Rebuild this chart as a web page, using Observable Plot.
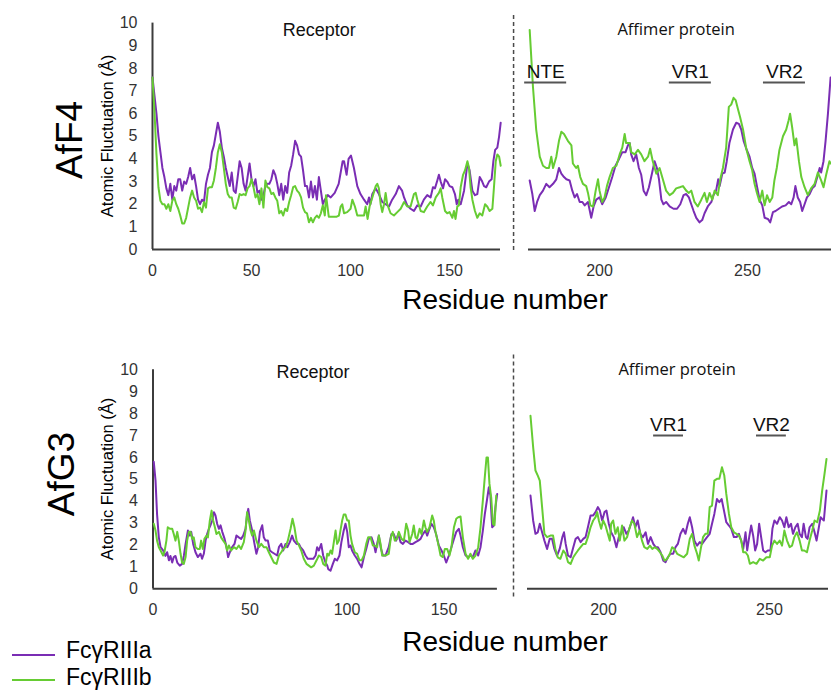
<!DOCTYPE html>
<html><head><meta charset="utf-8">
<script src="https://cdn.jsdelivr.net/npm/d3@7"></script>
<script src="https://cdn.jsdelivr.net/npm/@observablehq/plot@0.6"></script>
<style>
body{margin:0;background:#fff;font-family:"Liberation Sans",Arial,sans-serif;}
#wrap{position:relative;width:831px;height:692px;overflow:hidden;background:#fff;}
.pane{position:absolute;}
.pane svg{display:block;overflow:visible;}
.lbl{position:absolute;white-space:nowrap;line-height:1;color:#000;}
</style></head><body><div id="wrap"></div>
<script>
// ---------- DATA: [residue, RMSF Å] ----------
const seriesNames = ["FcγRIIIa", "FcγRIIIb"];
const yTicks = [0,1,2,3,4,5,6,7,8,9,10];
const receptorTicks = [0, 50, 100, 150];
const affimerTicks = [200, 250];
const F4_regions = [["NTE", 174.7, 188.9], ["VR1", 223.6, 237.8], ["VR2", 255.4, 269.6]];
const G3_regions = [["VR1", 215.1, 224.1], ["VR2", 246.1, 255.1]];

const F4_rec_IIIa = [[0,7.6],[1,6.8],[2,6.0],[3,5.0],[4,4.3],[5,3.6],[6,3.2],[7,2.7],[8,2.4],[9,2.9],[10,2.2],[11,2.8],[12,2.6],[13,3.1],[14,3.1],[15,2.6],[16,3.0],[17,2.9],[18,3.2],[19,3.6],[20,3.1],[21,3.3],[22,2.8],[23,2.2],[24,2.0],[25,2.2],[26,2.1],[27,2.9],[28,3.3],[29,3.6],[30,4.3],[31,4.6],[32,5.1],[33,5.6],[34,5.2],[35,4.5],[36,4.1],[37,3.6],[38,3.2],[39,2.8],[40,3.4],[41,2.6],[42,2.5],[43,3.2],[44,3.9],[45,3.6],[46,2.9],[47,2.6],[48,3.2],[49,3.8],[50,3.1],[51,2.8],[52,3.1],[53,2.5],[54,2.6],[55,2.2],[56,2.4],[57,2.8],[58,2.9],[59,2.9],[60,3.1],[61,3.5],[62,3.3],[63,2.9],[64,2.4],[65,2.9],[66,2.2],[67,2.8],[68,2.5],[69,3.4],[70,3.7],[71,4.2],[72,4.8],[73,4.6],[74,4.2],[75,4.1],[76,3.5],[77,2.8],[78,2.8],[79,2.3],[80,3.0],[81,2.3],[82,2.8],[83,2.2],[84,3.2],[85,2.6],[86,2.0],[87,2.2],[88.5,2.4],[90,2.3],[92,2.5],[94,2.9],[96,3.9],[96.7,3.9],[98,3.3],[99,4.0],[100.2,4.15],[101.7,3.6],[103.4,2.8],[105,2.45],[106.8,2.2],[108.4,2.0],[109.3,2.3],[110,2.0],[111,2.45],[112.7,2.7],[114.3,2.45],[116,2.1],[117.7,2.0],[119.4,1.9],[121,2.2],[122.8,2.45],[124.4,2.8],[126,2.6],[127,2.3],[128.6,1.95],[130.3,1.8],[132,1.7],[133.7,1.95],[135.4,1.9],[137,2.2],[138.7,2.4],[140.4,2.3],[141.6,2.75],[142.6,2.7],[143.8,3.05],[144.6,3.3],[145.5,3.0],[146.7,2.7],[147.7,3.1],[148.8,3.0],[150,2.8],[151.4,2.75],[152.7,2.45],[153.6,2.0],[154.4,2.2],[155.6,2.0],[157.3,2.6],[159,3.8],[160.1,3.5],[161.5,2.6],[162.8,2.4],[164,2.45],[165.2,3.2],[166.2,3.05],[167.4,2.8],[168.5,2.75],[169.9,3.0],[171.2,3.1],[172.1,3.9],[173,4.4],[174.1,4.5],[175,5.0],[175.8,5.6]];

const F4_rec_IIIb = [[0,7.6],[1,6.1],[2,4.2],[3,2.75],[4,2.15],[5,2.0],[6,2.0],[7,1.8],[8,2.0],[9,1.7],[10,2.15],[11,2.3],[12,2.0],[13,1.8],[14,1.5],[15,1.15],[16,1.15],[17,1.4],[18,1.85],[19,2.3],[20,2.6],[21,2.3],[22,2.15],[23,1.8],[24,1.85],[25,1.65],[26,2.1],[27,1.85],[28,2.7],[29,2.75],[30,2.75],[31,3.05],[32,3.6],[33,4.3],[34,4.65],[35,4.3],[36,3.6],[37,2.9],[38,2.45],[39,2.3],[40,2.3],[41,1.85],[42,1.8],[43,2.1],[44,2.45],[45,2.4],[46,2.45],[47,2.4],[48,2.7],[49,2.8],[50,3.1],[51,2.75],[52,2.3],[53,2.45],[54,2.0],[55,2.7],[56,1.85],[57,3.05],[58,2.75],[59,2.7],[60,2.45],[61,2.5],[62,2.3],[63,2.15],[64,1.6],[65,1.7],[66,1.5],[67,1.8],[68,1.7],[69,2.1],[70,2.4],[71,2.75],[72,2.8],[73,2.6],[74,2.5],[75,2.3],[76,1.85],[77,1.65],[78,1.6],[79,1.2],[80,1.4],[81,1.2],[82,1.4],[83,1.5],[84,1.4],[85,1.6],[86,1.95],[87,1.5],[87.6,2.4],[89,1.45],[91,1.45],[93,1.45],[94.1,1.5],[95,1.9],[95.8,2.0],[96.7,1.6],[98.3,1.65],[100,1.8],[100.9,2.2],[102.2,1.9],[103.4,1.5],[105,1.5],[106.8,1.5],[107.6,1.9],[108.6,1.35],[109.6,1.9],[111,2.3],[112.7,2.8],[113.5,2.9],[114.3,2.7],[115.2,2.0],[116,1.65],[116.9,2.0],[117.7,2.5],[118.5,2.0],[120.2,1.6],[121.9,1.5],[123.6,1.65],[125.3,1.8],[127,2.1],[128.6,1.9],[130.3,1.9],[132,2.45],[132.9,2.5],[133.7,2.2],[135.4,1.7],[137,1.65],[138.7,1.9],[140.4,2.1],[141.6,1.95],[143,2.3],[144.6,2.5],[145.5,2.7],[146.3,2.3],[147.7,1.7],[148.8,1.6],[150,1.65],[151.4,1.4],[152.2,1.7],[153,1.35],[153.9,1.9],[154.7,1.95],[155.6,2.75],[156.8,3.3],[157.8,3.5],[159,3.9],[159.8,3.6],[160.6,2.75],[161.5,2.2],[162.8,1.7],[164,1.4],[165.2,1.6],[166.5,1.5],[167.9,2.0],[169,1.9],[170.2,1.7],[171.6,1.8],[172.4,2.75],[173.3,3.9],[174.1,4.2],[175,4.1],[175.8,3.7]];

const F4_aff_IIIa = [[176.4,3.05],[177.3,2.45],[178.1,1.7],[178.9,2.1],[179.8,2.4],[180.9,2.6],[182,2.9],[183.1,2.75],[184.3,2.9],[185.4,3.1],[186.3,3.6],[187.1,3.35],[188,3.2],[188.8,3.1],[189.9,3.05],[190.8,2.6],[191.6,2.3],[192.4,2.45],[193.3,2.1],[194.2,2.1],[195,1.95],[196.1,2.1],[197.2,1.4],[198,1.9],[198.9,2.2],[200,2.3],[200.9,2.0],[202.1,2.3],[203.2,2.75],[204.3,3.2],[205.4,3.7],[206.6,4.0],[207.7,4.3],[208.8,4.3],[209.6,4.6],[210.2,4.7],[210.7,4.2],[211.5,3.9],[212.4,4.2],[213.3,3.6],[214.1,3.3],[214.9,2.6],[215.8,2.4],[216.7,2.75],[217.8,3.4],[218.6,3.9],[219.4,3.6],[220.1,3.1],[220.9,2.2],[221.6,2.0],[222.5,2.1],[223.7,1.9],[225,1.8],[226.2,1.8],[227.3,2.0],[228.4,2.4],[229.3,2.45],[230.2,2.3],[231,2.0],[231.8,1.7],[232.7,1.4],[233.8,1.2],[234.7,1.3],[235.5,1.6],[236.6,1.9],[237.8,2.1],[238.5,2.4],[239.4,2.6],[240.1,3.1],[240.6,2.8],[241.5,3.35],[242.3,3.4],[243,3.9],[243.9,4.7],[245.1,5.3],[246.2,5.6],[247.1,5.55],[247.9,5.3],[248.7,4.8],[249.6,4.45],[250.7,4.1],[251.6,3.6],[252.4,3.35],[253.2,2.8],[254.1,2.2],[255,1.95],[255.8,1.4],[256.9,1.35],[257.7,1.2],[258.6,1.65],[259.5,1.7],[260.6,1.8],[261.7,1.9],[262.9,1.95],[264,2.1],[264.8,2.0],[265.6,2.3],[266.2,2.8],[267,2.3],[267.8,2.1],[268.5,1.7],[269.3,2.0],[270.1,2.3],[271,2.45],[271.9,2.7],[272.7,2.8],[273.6,3.2],[274.4,3.6],[274.9,3.4],[275.7,3.9],[276.4,4.8],[277.2,6.0],[278.1,7.6]];

const F4_aff_IIIb = [[176.4,9.7],[177.5,7.2],[178.6,5.3],[179.8,4.1],[180.9,3.7],[182,3.6],[182.9,3.6],[183.7,4.1],[184.3,3.6],[185.4,4.1],[186.3,4.8],[187.1,5.2],[188,5.1],[189.3,4.8],[190.5,4.6],[191,3.8],[192.1,3.6],[192.7,3.7],[193.5,3.2],[194.4,2.9],[195.5,2.8],[196.1,2.5],[196.9,1.95],[197.8,1.9],[198.7,2.6],[199.5,3.1],[200,2.6],[200.9,2.1],[201.7,2.3],[202.5,2.8],[203.4,3.2],[204.5,3.6],[205.7,3.7],[206.8,4.2],[207.7,4.5],[208.5,5.1],[209,4.7],[210.2,4.7],[210.7,4.3],[211.9,4.2],[213,4.4],[214.1,4.2],[215.2,3.9],[216.4,4.1],[217.1,4.45],[218,3.9],[219.2,3.35],[220.3,3.6],[221.4,3.1],[222.5,2.6],[223.7,2.4],[224.8,2.5],[225.9,2.7],[227.1,2.75],[228.2,2.8],[229.3,2.6],[230.2,2.5],[231,2.6],[232.1,2.1],[233.2,1.9],[234.4,2.2],[235.5,2.5],[236.3,2.1],[237.2,2.5],[238.1,2.2],[238.9,2.6],[240,2.4],[240.8,3.1],[241.7,3.6],[242.8,4.5],[243.7,6.3],[244.5,6.4],[245.3,6.7],[246,6.6],[246.8,6.2],[247.5,5.85],[248.5,5.3],[249.6,4.45],[250.7,3.9],[251.6,3.5],[252.4,2.9],[253.2,2.5],[254.1,2.1],[255,2.6],[255.8,1.95],[256.6,2.4],[257.5,2.1],[258.4,2.3],[259.1,3.05],[259.9,3.6],[260.8,4.4],[262,5.0],[263.1,5.3],[263.9,5.7],[264.4,6.0],[265.1,5.4],[265.9,4.6],[266.5,4.9],[267.4,3.9],[268.2,3.2],[269.3,2.75],[270.4,2.4],[271.5,2.7],[272.7,2.9],[273.8,3.4],[274.9,3.05],[275.7,2.75],[276.6,3.3],[277.7,3.9],[278.1,3.8]];

const G3_rec_IIIa = [[0.4,5.8],[1.3,4.95],[2.1,3.4],[3,2.35],[3.9,1.9],[5.2,1.75],[6.4,1.5],[7.3,1.67],[8.2,1.3],[9,1.5],[9.9,1.2],[10.7,1.45],[11.6,1.5],[12.5,1.2],[13.8,1.06],[15,1.14],[15.9,1.5],[16.8,2.05],[18,2.66],[19,2.43],[19.7,2.6],[20.7,2.05],[21.9,1.67],[23.1,1.45],[24.5,1.6],[25.3,1.37],[26.2,1.6],[27.1,2.2],[27.9,2.5],[28.8,2.74],[29.6,2.9],[30.5,3.12],[31.4,3.5],[32.2,3.35],[33.1,2.96],[34,2.74],[34.8,2.9],[35.7,2.6],[36.9,2.28],[37.9,1.9],[38.7,1.45],[39.6,1.67],[40.8,1.9],[42,2.05],[43,2.43],[44.2,2.35],[45.4,2.28],[46.5,2.43],[47.7,2.74],[48.5,3.4],[49.1,3.65],[49.9,3.12],[51.1,2.66],[52.3,2.05],[53.3,1.6],[54.2,1.9],[55.1,2.6],[56.3,2.9],[57.1,2.35],[58,2.2],[59.2,2.2],[60.2,1.75],[61.4,1.67],[62.6,1.6],[64,1.52],[64.9,1.9],[66.1,2.05],[67.1,1.75],[68.3,2.05],[69.2,1.9],[70.5,2.13],[71.7,2.43],[72.6,2.2],[74,2.05],[75.2,2.05],[76,1.9],[77.4,1.75],[78.6,1.52],[79.8,1.37],[81.2,1.37],[82.6,1.37],[83.8,1.52],[84.6,1.9],[85.5,1.75],[86.7,2.05],[87.7,1.52],[88.9,1.2],[89.8,1.06],[90.3,0.9],[91.5,0.83],[92.7,1.14],[93.7,1.37],[94.9,1.3],[96.1,1.52],[97.1,2.13],[98.3,2.66],[99.2,2.97],[100.1,2.6],[100.9,1.9],[101.8,1.98],[102.6,1.75],[104,1.52],[105.2,1.37],[106.4,1.14],[107.5,0.98],[108.7,1.45],[109.9,1.82],[111.2,2.28],[112.6,2.35],[113.8,2.05],[114.7,1.67],[115.5,2.05],[116.4,2.43],[117.3,1.9],[118.5,1.52],[119.8,1.52],[121.5,1.9],[122.9,2.5],[124.1,2.5],[125.3,2.2],[126.4,2.5],[127.6,2.13],[128.8,2.05],[130.1,2.2],[131.5,2.13],[132.7,2.05],[133.9,2.05],[135.3,2.13],[136.7,2.2],[137.9,2.28],[139.1,2.5],[140.4,2.66],[141.3,2.43],[142.2,2.66],[143.5,2.97],[144.7,2.81],[145.9,2.5],[147.3,1.98],[148.7,1.75],[149.9,1.52],[151.1,1.2],[152.5,1.52],[153.8,1.9],[155.1,2.28],[156.3,2.6],[157.6,2.74],[158.5,2.43],[159.7,1.9],[161.1,1.52],[162.4,1.45],[163.6,1.52],[164.8,1.45],[166.2,1.75],[167.6,1.52],[168.8,1.9],[170,2.66],[171,3.4],[172.2,4.1],[173.1,4.64],[173.9,4.26],[174.8,2.81],[175.7,2.9],[176.5,3.73],[177.4,4.33]];

const G3_rec_IIIb = [[0.4,2.97],[1.3,2.66],[2.1,2.2],[3,1.9],[3.9,1.75],[5.2,1.52],[5.9,1.67],[6.9,2.2],[7.6,2.81],[8.7,2.74],[9.9,2.74],[10.7,2.5],[11.6,2.2],[12.5,2.6],[13.3,2.2],[14.2,1.6],[15,1.2],[15.9,1.14],[16.8,1.45],[17.6,2.2],[18.5,2.6],[19.3,2.6],[20.2,2.28],[21,2.35],[21.9,1.9],[23.1,1.82],[24.1,1.82],[24.8,2.2],[25.7,1.82],[26.5,2.28],[27.6,2.43],[28.3,2.35],[29.3,3.12],[30.2,3.57],[31,3.12],[31.9,2.81],[32.7,2.5],[34,2.6],[35.1,2.35],[36.2,2.2],[37.4,2.05],[38.2,1.75],[39.1,1.98],[40.3,1.75],[41.7,1.9],[43,1.82],[44.2,1.98],[45.4,1.82],[46.8,2.13],[47.7,2.66],[48.5,3.5],[49.4,3.12],[50.3,2.66],[51.1,2.43],[52,2.66],[53.3,2.2],[54.6,1.9],[55.8,2.05],[57.1,1.9],[58.5,1.9],[59.7,1.67],[60.9,1.45],[62.3,1.2],[63.7,1.14],[64.9,1.52],[66.1,1.67],[67.1,1.82],[68.3,1.9],[69.5,2.2],[70.9,2.74],[71.9,3.2],[72.9,2.81],[74,2.2],[75.2,1.98],[76.4,1.75],[77.7,1.37],[79.1,1.14],[80.3,1.06],[81.5,0.98],[82.9,1.06],[84.3,1.3],[85.5,1.52],[86.7,1.45],[87.7,1.14],[88.9,1.06],[89.8,1.6],[90.6,1.52],[91.5,1.75],[92.3,1.6],[93.2,2.13],[94.1,2.66],[94.9,2.05],[95.8,2.2],[96.6,2.66],[97.5,3.12],[98.3,3.39],[99.2,3.39],[100.1,3.12],[100.9,3.12],[101.8,2.43],[102.6,2.05],[104,1.67],[105.2,1.6],[106.4,1.3],[107.5,1.3],[108.7,1.52],[109.9,2.05],[110.9,2.35],[112.1,2.35],[113.3,1.98],[114.3,1.98],[115.5,1.9],[116.4,2.43],[117.3,2.05],[118.1,1.52],[119.8,1.52],[121.5,1.6],[122.6,2.35],[123.6,2.6],[124.6,2.2],[125.7,2.28],[126.7,2.6],[128.1,2.28],[129.3,2.2],[130.5,2.97],[131.5,2.66],[132.2,2.13],[133.6,2.5],[134.4,2.89],[135.3,2.35],[136.1,2.28],[137.4,2.74],[138.4,2.5],[139.6,3.12],[140.4,2.81],[141.3,2.6],[142.5,2.81],[143.9,3.35],[144.7,3.12],[145.6,2.6],[147,2.05],[148.2,1.52],[149.4,1.45],[150.4,1.82],[151.6,1.82],[152.8,1.52],[153.8,1.9],[155.1,2.81],[156.3,3.2],[157.3,3.27],[158.5,3.3],[159.7,2.35],[161.1,1.6],[162.4,1.37],[163.6,1.6],[164.8,1.37],[166.2,1.52],[167.6,1.9],[168.8,2.81],[170,4.03],[171,5.1],[171.9,6.0],[172.6,6.0],[173.4,4.8],[174.3,4.18],[175.2,2.97],[176,2.9],[176.9,4.26]];

const G3_aff_IIIa = [[178,4.26],[178.8,3.12],[179.5,2.51],[180.2,2.58],[180.8,2.97],[181.5,2.58],[182.2,2.2],[183,1.82],[183.8,2.28],[184.5,2.28],[185.2,1.82],[186,1.52],[186.8,1.82],[187.6,2.36],[188.1,2.58],[188.6,2.05],[189.3,1.52],[190.1,1.44],[190.9,1.9],[191.6,2.28],[192.3,2.36],[193.1,2.13],[193.9,2.28],[194.6,2.36],[195.3,2.81],[196.1,3.35],[196.9,3.35],[197.6,3.5],[198.3,3.73],[198.9,3.57],[199.6,3.12],[200.3,3.5],[200.9,3.57],[201.6,2.97],[202.3,2.58],[203.1,2.36],[203.9,1.9],[204.6,2.36],[205.3,2.51],[206.1,2.81],[206.9,2.51],[207.6,2.66],[208.3,2.97],[208.9,3.27],[209.6,2.81],[210.3,3.12],[211.1,2.51],[211.9,2.36],[212.7,2.58],[213.4,2.05],[214.2,2.36],[215,2.05],[215.7,1.9],[216.4,1.9],[217.2,1.67],[218,1.29],[218.7,1.22],[219.4,1.44],[220.2,1.6],[221,1.6],[221.7,1.9],[222.4,2.05],[223.2,2.51],[224,2.74],[224.7,2.51],[225.4,2.97],[226,3.27],[226.7,2.81],[227.4,2.2],[228.2,1.97],[229,2.13],[229.7,2.05],[230.4,2.2],[231.2,2.36],[232,2.51],[232.7,2.97],[233.4,3.42],[234.2,4.1],[234.9,3.95],[235.6,4.1],[236.2,3.65],[237,3.04],[237.8,2.89],[238.5,2.74],[239.3,2.36],[240.1,2.36],[240.8,2.51],[241.5,2.2],[242.1,1.82],[242.8,2.58],[243.3,1.75],[243.9,2.36],[244.5,2.89],[245.1,2.43],[245.7,1.75],[246.3,2.05],[246.9,2.97],[247.5,2.36],[248.1,1.75],[248.8,1.67],[249.5,1.75],[250.3,1.75],[250.9,2.74],[251.5,3.12],[252.3,2.97],[253.1,3.27],[253.8,3.12],[254.5,2.81],[255.1,3.27],[255.8,2.81],[256.5,2.97],[257.1,2.51],[257.8,2.81],[258.5,2.97],[259.1,2.51],[259.8,2.36],[260.3,2.97],[261,2.36],[261.5,2.28],[262.1,2.81],[262.9,2.97],[263.6,2.58],[264.2,2.2],[264.9,2.81],[265.4,3.27],[265.9,3.19],[266.4,3.12],[267.2,4.49]];

const G3_aff_IIIb = [[178,7.9],[178.8,6.47],[179.5,5.4],[180.2,5.17],[180.8,4.94],[181.5,3.73],[182.2,2.51],[183,2.36],[184,2.43],[184.8,2.43],[185.5,1.82],[186.2,1.44],[187,1.37],[187.9,1.75],[188.6,1.6],[189.3,1.22],[190.1,1.14],[190.9,1.44],[191.6,1.6],[192.3,1.75],[193.1,1.9],[193.9,2.05],[194.6,2.05],[195.3,2.36],[196.1,2.81],[196.9,3.12],[197.6,3.27],[198.1,3.5],[198.6,3.12],[199.3,2.74],[199.9,3.12],[200.6,2.89],[201.3,2.51],[201.9,2.2],[202.3,2.97],[202.9,3.12],[203.6,2.51],[204.3,2.81],[204.9,2.2],[205.6,2.89],[206.3,2.2],[207.1,2.36],[207.9,2.81],[208.6,3.12],[209.3,2.97],[210.1,2.36],[210.9,2.66],[211.6,2.2],[212.3,1.9],[213.2,1.82],[214,1.97],[214.7,1.82],[215.4,1.9],[216.2,1.82],[217,1.67],[217.7,1.52],[218.4,1.29],[219.2,1.37],[220,1.6],[220.7,1.9],[221.4,1.82],[222.2,1.6],[223.2,1.52],[224.2,1.44],[225.2,1.6],[226,2.28],[226.7,2.51],[227.4,1.97],[228.2,1.6],[228.7,1.29],[229.4,1.9],[230,2.36],[230.7,2.51],[231.4,2.51],[232,3.73],[232.7,3.8],[233.4,4.94],[234.2,5.02],[234.9,5.02],[235.7,5.55],[236.4,5.17],[237,4.33],[237.8,3.42],[238.5,2.81],[239.3,2.58],[240.1,2.51],[240.8,2.43],[241.5,2.2],[242.1,1.67],[242.8,1.67],[243.5,1.52],[244.1,1.14],[245.1,1.22],[246.1,1.14],[247.1,1.37],[248.1,1.29],[249.1,1.44],[250.1,1.44],[250.8,1.97],[251.5,2.2],[252.3,2.05],[253.1,2.2],[253.8,1.97],[254.5,2.66],[255.3,2.2],[256.1,1.9],[256.8,1.97],[257.5,2.36],[258.3,2.58],[259.1,2.2],[259.8,1.75],[260.5,1.75],[261.3,1.67],[262.1,2.2],[262.9,2.66],[263.6,3.12],[264.4,3.04],[265.2,3.57],[265.9,4.49],[266.6,5.25],[267.2,5.93]];

// ---------- STYLE ----------
const purple = "#7A2DB4", green = "#66CC33", axisCol = "#3c3c3c", dashCol = "#4a4a4a";
const sans = "'Liberation Sans', Arial, sans-serif";
const baseStyle = {fontFamily: sans, fontSize: "16px", color: "#333", background: "transparent", overflow: "visible"};
const wrap = document.getElementById("wrap");

function place(node, left, top) {
  const d = document.createElement("div");
  d.className = "pane";
  d.style.left = left + "px"; d.style.top = top + "px";
  d.appendChild(node);
  wrap.appendChild(d);
}

function lines(a, b) {
  return [
    Plot.line(a, {x: d => d[0], y: d => d[1], stroke: purple, strokeWidth: 2}),
    Plot.line(b, {x: d => d[0], y: d => d[1], stroke: green, strokeWidth: 2})
  ];
}

function receptorPlot({a, b, h, mt, mb, ml, mr, xMax, divider, divY, title, titleX, titleY}) {
  return Plot.plot({
    width: 515, height: h, marginLeft: ml, marginRight: mr, marginTop: mt, marginBottom: mb,
    x: {domain: [0, xMax]}, y: {domain: [0, 10]},
    style: baseStyle,
    marks: [
      Plot.ruleY([0], {stroke: axisCol, strokeWidth: 2}),
      Plot.ruleX([0], {stroke: axisCol, strokeWidth: 2}),
      Plot.axisY(yTicks, {tickSize: 0, tickPadding: 15, label: null}),
      Plot.axisX(receptorTicks, {tickSize: 0, tickPadding: 15, label: null}),
      Plot.ruleX([divider], {y1: divY[0], y2: divY[1], stroke: dashCol, strokeWidth: 1.5, strokeDasharray: "4,3"}),
      ...lines(a, b),
      Plot.text([title], {x: titleX, y: titleY, text: d => d, fontSize: 18, lineAnchor: "bottom", fill: "#111"})
    ]
  });
}

function affimerPlot({a, b, h, mt, mb, ml, mr, domain, regions, regY, lineY, titleX, titleY}) {
  return Plot.plot({
    width: 321, height: h, marginLeft: ml, marginRight: mr, marginTop: mt, marginBottom: mb,
    x: {domain}, y: {domain: [0, 10], axis: null},
    style: baseStyle,
    marks: [
      Plot.ruleY([0], {stroke: axisCol, strokeWidth: 2}),
      Plot.axisX(affimerTicks, {tickSize: 0, tickPadding: 15, label: null}),
      ...lines(a, b),
      Plot.text(["Affimer protein"], {x: titleX, y: titleY, text: d => d, fontSize: 16.5, fontFamily: "'Open Sans', sans-serif", lineAnchor: "bottom", fill: "#111"}),
      Plot.text(regions, {x: d => (d[1] + d[2]) / 2, y: regY, text: d => d[0], fontSize: 19, lineAnchor: "bottom", fill: "#111"}),
      Plot.ruleY(regions, {x1: d => d[1], x2: d => d[2], y: lineY, stroke: "#555", strokeWidth: 2})
    ]
  });
}

// ---------- TOP PANEL (AfF4) ----------
place(receptorPlot({a: F4_rec_IIIa, b: F4_rec_IIIb, h: 320, mt: 22.6, mb: 71, ml: 152, mr: 15, xMax: 175.7,
  divider: 182.3, divY: [-0.04, 10.47], title: "Receptor", titleX: 84.2, titleY: 9.41}), 0, 0);
place(affimerPlot({a: F4_aff_IIIa, b: F4_aff_IIIb, h: 320, mt: 22.6, mb: 71, ml: 18, mr: 0, domain: [176, 278.4],
  regions: F4_regions, regY: 7.56, lineY: 7.38, titleX: 225.9, titleY: 9.46}), 510, 0);

// ---------- BOTTOM PANEL (AfG3) ----------
place(receptorPlot({a: G3_rec_IIIa, b: G3_rec_IIIb, h: 290, mt: 39.3, mb: 31.7, ml: 152.5, mr: 18.1, xMax: 177.5,
  divider: 185.8, divY: [-0.38, 10.8], title: "Receptor", titleX: 82.5, titleY: 9.62}), 0, 330);
place(affimerPlot({a: G3_aff_IIIa, b: G3_aff_IIIb, h: 290, mt: 39.3, mb: 31.7, ml: 17, mr: 3, domain: [177.1, 267.8],
  regions: G3_regions, regY: 7.2, lineY: 7.0, titleX: 222.2, titleY: 9.74}), 510, 330);

// ---------- HTML labels ----------
function label(text, cx, cy, size, opts = {}) {
  const d = document.createElement("div");
  d.className = "lbl";
  d.textContent = text;
  d.style.left = cx + "px"; d.style.top = cy + "px";
  d.style.fontSize = size + "px";
  d.style.fontFamily = opts.family || sans;
  d.style.transform = (opts.left ? "translate(0,-50%)" : "translate(-50%,-50%)") + (opts.rot ? " rotate(-90deg)" : "");
  wrap.appendChild(d);
}
label("AfF4", 69, 140, 37, {rot: true});
label("AfG3", 61, 474, 37, {rot: true});
label("Atomic Fluctuation (Å)", 106.5, 136, 16.5, {rot: true});
label("Atomic Fluctuation (Å)", 106.5, 479, 16.5, {rot: true});
label("Residue number", 505, 300.3, 28);
label("Residue number", 505, 642, 28);

// legend
[[purple, 655, 650.3], [green, 680, 677]].forEach(([c, ly, ty], i) => {
  const s = document.createElement("div");
  Object.assign(s.style, {position: "absolute", left: "12px", top: (ly - 1.25) + "px", width: "43px", height: "2.5px", background: c});
  wrap.appendChild(s);
  label(seriesNames[i], 66, ty, 23, {left: true});
});
</script>
</body></html>
